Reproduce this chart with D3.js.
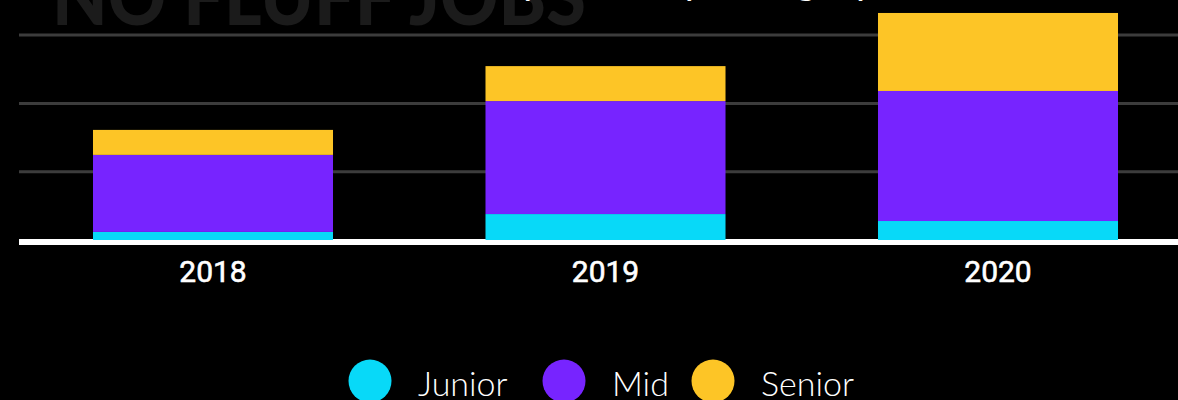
<!DOCTYPE html>
<html>
<head>
<meta charset="utf-8">
<script src="https://cdn.jsdelivr.net/npm/d3@7"></script>
<style>
  html, body { margin: 0; padding: 0; background: #000; }
  svg { display: block; }
</style>
</head>
<body>
<svg id="chart" width="1178" height="400"></svg>
<script>
// Job offers per year, split by seniority level
const years = ["2018", "2019", "2020"];
const junior = [5.9, 19.0, 13.9];
const mid = [56.4, 82.7, 95.2];
const senior = [18.3, 25.6, 57.1];
const seriesNames = ["Junior", "Mid", "Senior"];
const seriesColors = ["#08d9f8", "#7724ff", "#fdc526"];
const gridTicks = [50, 100, 150];

const svg = d3.select("#chart");
const W = 1178, H = 400;

svg.append("rect").attr("width", W).attr("height", H).attr("fill", "#000");

// Brand watermark and title sit above the plot, clipped by the top edge
svg.append("text")
  .attr("x", 52).attr("y", 25)
  .attr("font-family", "Lato")
  .attr("font-weight", 900)
  .attr("font-size", 80)
  .attr("textLength", 534)
  .attr("lengthAdjust", "spacingAndGlyphs")
  .attr("fill", "#1b1b1b")
  .text("NO FLUFF JOBS");

svg.append("text")
  .attr("x", 600).attr("y", -6)
  .attr("text-anchor", "middle")
  .attr("font-family", "Lato")
  .attr("font-size", 40)
  .attr("fill", "#fff")
  .text("Job offers by seniority (category)");

const table = years.map((y, i) => ({ year: y, Junior: junior[i], Mid: mid[i], Senior: senior[i] }));
const stacked = d3.stack().keys(seriesNames)(table);

const x = d3.scaleBand().domain(years).range([16.75, 1194.25])
  .paddingInner(0.3885).paddingOuter(0.19425);
const y = d3.scaleLinear().domain([0, 150]).range([240, 35.1]);

// Horizontal gridlines
svg.append("g").selectAll("line").data(gridTicks).join("line")
  .attr("x1", 19).attr("x2", W)
  .attr("y1", d => y(d)).attr("y2", d => y(d))
  .attr("stroke", "#3c3c3c").attr("stroke-width", 3);

// Baseline
svg.append("line")
  .attr("x1", 19).attr("x2", W)
  .attr("y1", y(0) + 2).attr("y2", y(0) + 2)
  .attr("stroke", "#fff").attr("stroke-width", 6);

// Stacked bars
svg.append("g").selectAll("g").data(stacked).join("g")
  .attr("fill", (d, i) => seriesColors[i])
  .selectAll("rect").data(d => d).join("rect")
  .attr("x", d => x(d.data.year))
  .attr("width", x.bandwidth())
  .attr("y", d => y(d[1]))
  .attr("height", d => y(d[0]) - y(d[1]));

// Year labels
const xAxis = d3.axisBottom(x).tickSize(0).tickPadding(0);
const gx = svg.append("g").attr("transform", "translate(0,282)").call(xAxis);
gx.select(".domain").remove();
gx.selectAll("text")
  .attr("dy", 0)
  .attr("fill", "#fff")
  .attr("font-family", "Roboto")
  .attr("font-weight", 400)
  .attr("font-size", 30)
  .attr("stroke", "#fff")
  .attr("stroke-width", 0.6);

// Legend
const legendCx = [370, 564, 713];
const legend = svg.append("g").selectAll("g").data(seriesNames).join("g")
  .attr("transform", (d, i) => `translate(${legendCx[i]},381)`);
legend.append("circle").attr("r", 21.5).attr("fill", (d, i) => seriesColors[i]);
legend.append("text")
  .attr("x", 48).attr("y", 15)
  .attr("fill", "#fff")
  .attr("font-family", "Lato")
  .attr("font-weight", 300)
  .attr("font-size", 34)
  .text(d => d);
</script>
</body>
</html>
